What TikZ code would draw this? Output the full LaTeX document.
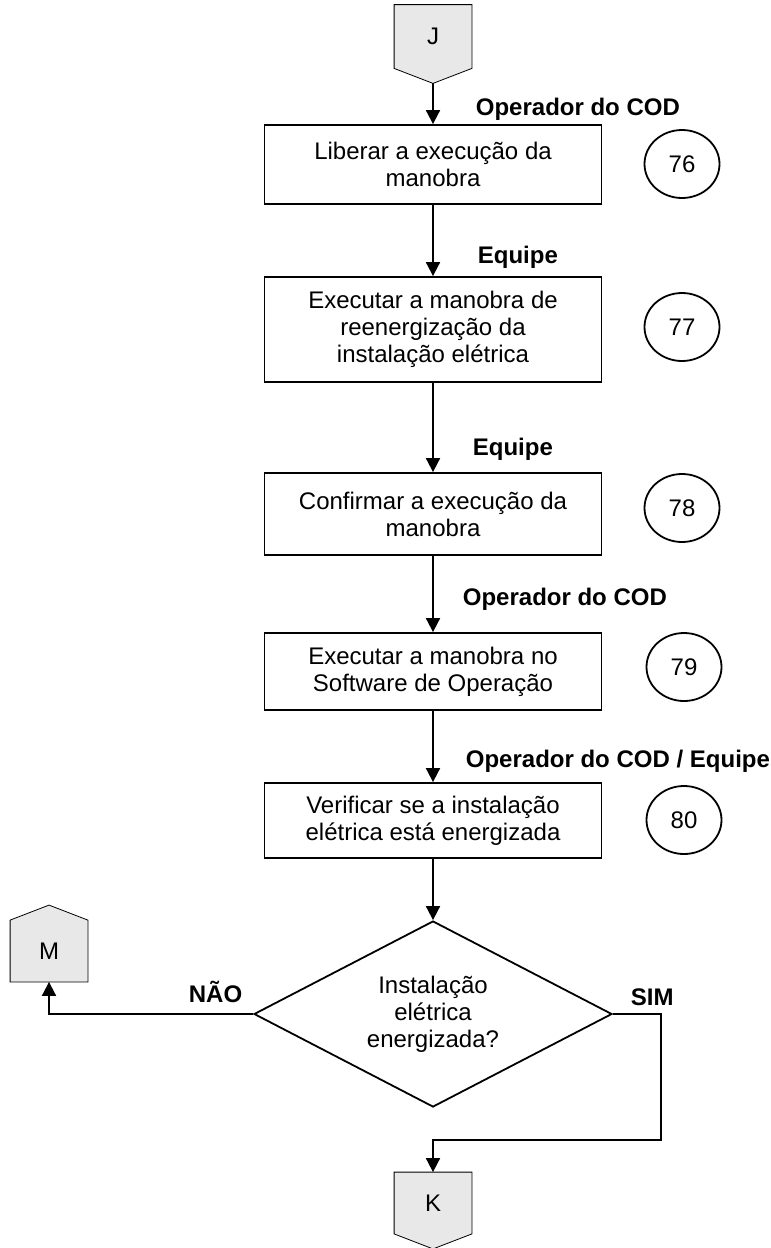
\documentclass[tikz,border=0pt]{standalone}
\usepackage{fontspec}
\setmainfont{Liberation Sans}
\usetikzlibrary{shapes.geometric,arrows.meta,backgrounds,calc}
\definecolor{cinza}{RGB}{232,232,232}

\begin{document}
\begin{tikzpicture}[x=0.5pt,y=-0.5pt,line width=0.9pt,
		font=\fontsize{12}{13.5}\selectfont,
		passo/.style={draw,rectangle,align=center,minimum width=168.5pt,inner sep=0pt},
		numero/.style={draw,ellipse,minimum width=37.5pt,minimum height=34pt,inner sep=0pt},
		decisao/.style={draw,diamond,aspect=1.925,minimum width=179pt,minimum height=93pt,align=center,inner sep=0pt},
		conector/.style={minimum width=38pt,minimum height=31pt,inner sep=0pt},
		ator/.style={anchor=base west,inner sep=0pt,font=\fontsize{12}{13.5}\selectfont\bfseries},
		seta/.style={-{Triangle[length=7pt,width=7pt]}}]
			\useasboundingbox (0,0) rectangle (771,1248);
			\node[conector] (J) at (433,36.5) {J};
			\node[passo,minimum height=39.5pt] (p76) at (433,164.5) {Liberar a execução da\\manobra};
			\node[passo,minimum height=52.5pt] (p77) at (433,329.5) {Executar a manobra de\\reenergização da\\instalação elétrica};
			\node[passo,minimum height=41pt] (p78) at (433,514) {Confirmar a execução da\\manobra};
			\node[passo,minimum height=38.5pt] (p79) at (433,671.5) {Executar a manobra no\\Software de Operação};
			\node[passo,minimum height=37.5pt] (p80) at (433,820.5) {Verificar se a instalação\\elétrica está energizada};
			\node[decisao] (dec) at (433,1014) {Instalação\\elétrica\\energizada?};
			\node[conector,minimum height=30pt] (M) at (49,951) {M};
			\node[conector,minimum height=30pt] (K) at (433,1203) {K};
			\node[numero] (n76) at (682,164) {76};
			\node[numero] (n77) at (682,327) {77};
			\node[numero] (n78) at (682,508) {78};
			\node[numero] (n79) at (684,667) {79};
			\node[numero] (n80) at (684,820) {80};
			\node[ator] (a76) at (475,115) {Operador do COD};
			\node[ator] (a77) at (477,263) {Equipe};
			\node[ator] (a78) at (472,455) {Equipe};
			\node[ator] (a79) at (462,605) {Operador do COD};
			\node[ator] (a80) at (465,767) {Operador do COD / Equipe};
			\node[ator] (nao) at (188,1002) {NÃO};
			\node[ator] (sim) at (630,1005) {SIM};
			\begin{scope}[on background layer]
				\draw[fill=cinza] (J.north west) -- (J.north east) -- (J.south east) -- ($(J.south)+(0,15)$) -- (J.south west) -- cycle;
				\draw[fill=cinza] (K.north west) -- (K.north east) -- (K.south east) -- ($(K.south)+(0,15)$) -- (K.south west) -- cycle;
				\draw[fill=cinza] (M.south west) -- (M.north west) -- ($(M.north)+(0,-15)$) -- (M.north east) -- (M.south east) -- cycle;
			\end{scope}
			\coordinate (Jponta) at ($(J.south)+(0,15)$);
			\coordinate (volta) at (661,1140);
			\draw[seta] (Jponta) -- (p76.north);
			\draw[seta] (p76) -- (p77);
			\draw[seta] (p77) -- (p78);
			\draw[seta] (p78) -- (p79);
			\draw[seta] (p79) -- (p80);
			\draw[seta] (p80) -- (dec);
			\draw[seta] (dec.west) -| (M.south);
			\draw[seta] (dec.east) -| (volta) -| (K.north);
		\end{tikzpicture}
\end{document}
